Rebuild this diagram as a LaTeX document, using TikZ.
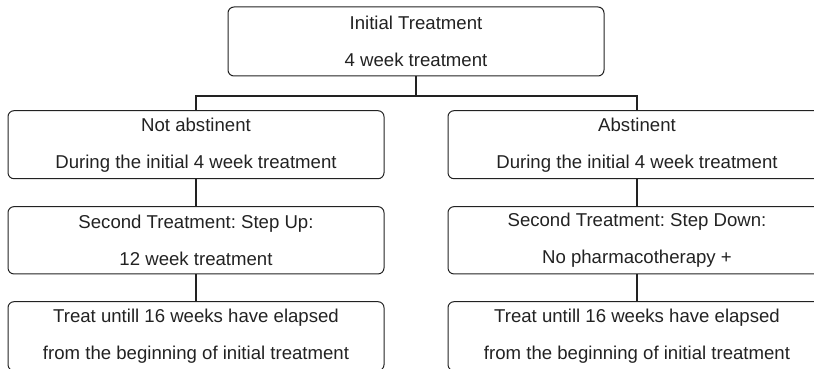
\documentclass[tikz,border=0pt]{standalone}
\usepackage{fontspec}
\setmainfont{Liberation Sans}
\definecolor{ink}{HTML}{222222}
\frenchspacing
\begin{document}
\begin{tikzpicture}[x=1pt,y=-1pt,
  box/.style={draw=ink,line width=1pt,rounded corners=6pt,minimum width=376pt,
    inner sep=0pt,align=center,text=ink,font=\fontsize{18.6}{37}\selectfont\frenchspacing},
  link/.style={draw=ink,line width=2pt}]
\useasboundingbox (0,0) rectangle (814,369);
\clip (0,0) rectangle (814,369);
\node[box,minimum height=69pt] (top) at (416,41.5) {Initial Treatment\\4 week treatment};
\node[box,minimum height=68pt] (l2) at (196,144.7) {Not abstinent\\During the initial 4 week treatment};
\node[box,minimum height=68pt,minimum width=378pt] (r2) at (637,144.7) {Abstinent\\During the initial 4 week treatment};
\node[box,minimum height=67.3pt] (l3) at (196,240.3) {Second Treatment: Step Up:\\12 week treatment};
\node[box,minimum height=67.3pt,minimum width=378pt] (r3) at (637,240.3) {Second Treatment: Step Down:\\No pharmacotherapy +};
\node[box,minimum height=69pt] (l4) at (196,336.2) {Treat untill 16 weeks have elapsed\\from the beginning of initial treatment};
\node[box,minimum height=69pt,minimum width=378pt] (r4) at (637,336.2) {Treat untill 16 weeks have elapsed\\from the beginning of initial treatment};
\coordinate (bar) at (416,95.5);
\draw[link] (top.south) -- (bar);
\draw[link] (l2.north) -- (l2.north |- bar) -- (r2.north |- bar) -- (r2.north);
\draw[link] (l2.south) -- (l3.north);
\draw[link] (r2.south) -- (r3.north);
\draw[link] (l3.south) -- (l4.north);
\draw[link] (r3.south) -- (r4.north);
\end{tikzpicture}
\end{document}
